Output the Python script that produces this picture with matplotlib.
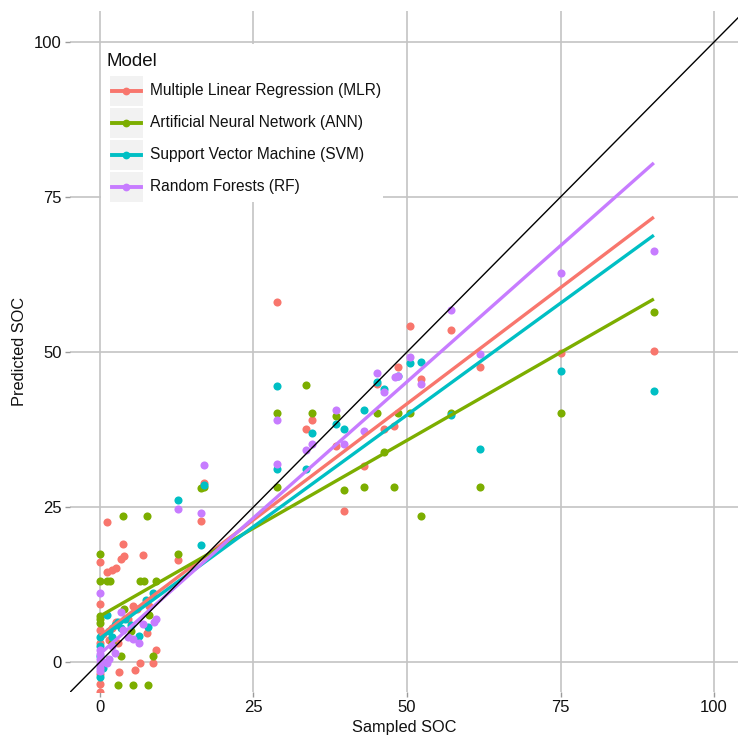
import matplotlib
matplotlib.use("Agg")
import matplotlib.pyplot as plt
from matplotlib.patches import Rectangle
from matplotlib.lines import Line2D
import numpy as np

plt.rcParams['font.family'] = ['Liberation Sans', 'DejaVu Sans']

models = ["Multiple Linear Regression (MLR)", "Artificial Neural Network (ANN)",
          "Support Vector Machine (SVM)", "Random Forests (RF)"]
colors = ["#F8766D", "#7CAE00", "#00BFC4", "#C77CFF"]

# Scatter points (Sampled SOC, Predicted SOC) per model
mlr_x = [0, 0, 0, 0, 0, 0, 0, 1.1, 1.2, 1.9, 2.6, 3.5, 3.9, 3.8, 7.0, 5.3, 2.6, 7.6, 6.5, 8.7, 9.1, 3.1, 5.7,
         0.5, 1.5, 2.0, 4.5, 6.0, 3.0, 8.0, 12.7, 16.5, 16.9,
         28.8, 33.5, 34.6, 38.4, 39.8, 43.0, 45.1, 46.2, 47.9, 48.5, 50.5, 52.2, 57.1, 61.9, 75.0, 90.2]
mlr_y = [16.2, 9.4, 5.2, 3.0, -3.5, -4.8, -2.0, 22.6, 14.5, 14.9, 15.2, 16.6, 17.1, 19.1, 17.3, 9.0, 6.5, 4.6, -0.1, -0.1, 2.0, -1.6, -1.3,
         4.5, 3.5, 5.5, 7.0, 8.5, 3.0, 9.0, 16.4, 22.7, 28.9,
         58.0, 37.6, 39.1, 34.9, 24.3, 31.6, 44.9, 37.6, 38.0, 47.5, 54.2, 45.7, 53.6, 47.5, 49.8, 50.1]

ann_x = [0, 0, 0, 0, 0, 1.1, 1.7, 3.8, 7.6, 6.5, 7.2, 9.2, 3.9, 8.7, 3.4, 3.0, 5.3, 7.9, 2.0, 5.0, 8.0,
         12.7, 16.5, 16.9,
         28.8, 28.8, 33.5, 34.6, 38.4, 39.8, 43.0, 45.1, 46.2, 47.9, 48.5, 50.5, 52.2, 57.1, 61.9, 75.0, 90.2]
ann_y = [17.4, 13.0, 7.4, 6.9, 6.3, 13.0, 13.0, 23.5, 23.5, 13.0, 13.0, 13.0, 8.5, 1.0, 0.9, -3.7, -3.7, -3.7, 3.0, 5.0, 7.5,
         17.4, 28.0, 28.3,
         40.2, 28.2, 44.6, 40.1, 39.6, 27.7, 28.2, 40.1, 33.8, 28.2, 40.1, 40.1, 23.5, 40.2, 28.2, 40.2, 56.5]

svm_x = [0, 0, 0, 0, 1.1, 7.5, 8.6, 7.9, 6.4, 1.5, 2.5, 3.0, 4.0, 5.0, 2.0, 3.5, 0.5,
         12.7, 16.5, 16.9,
         28.8, 28.8, 33.5, 34.6, 38.4, 39.8, 43.0, 45.1, 46.2, 48.5, 50.5, 52.2, 57.1, 61.9, 75.0, 90.2]
svm_y = [-2.4, 2.6, 1.0, 4.0, 7.6, 10.0, 11.1, 5.6, 4.2, 5.0, 6.0, 6.5, 7.0, 6.0, 4.0, 5.5, -1.0,
         26.2, 18.8, 28.5,
         44.5, 31.1, 31.1, 36.9, 38.4, 37.6, 40.7, 45.1, 44.0, 46.2, 48.3, 48.4, 39.8, 34.4, 47.0, 43.7]

rf_x = [0, 0, 0, 0, 0, 0, 0, 1.1, 2.4, 3.8, 3.5, 8.8, 9.2, 7.0, 5.4, 6.4, 1.5, 0.5, 4.5, 2.0,
        12.7, 16.5, 16.9,
        28.8, 28.8, 33.5, 34.6, 38.4, 39.8, 43.0, 45.1, 46.2, 48.1, 48.6, 50.5, 52.2, 57.1, 61.9, 75.0, 90.2]
rf_y = [11.2, 1.3, 0.5, -0.3, -1.0, -1.4, 2.0, -0.2, 1.4, 5.2, 8.0, 6.5, 6.9, 6.1, 3.7, 3.1, 0.5, 0.0, 4.0, 2.5,
        24.7, 24.1, 31.8,
        39.0, 32.0, 34.2, 35.2, 40.7, 35.2, 37.3, 46.6, 43.5, 45.9, 46.2, 49.2, 44.8, 56.7, 49.6, 62.7, 66.3]

# Linear fit lines (intercept, slope), fitted range
fit_intercepts = [4.2, 7.4, 3.8, 1.3]
fit_slopes = [0.749, 0.567, 0.721, 0.878]
fit_range = [0.0, 90.2]

xticks = [0, 25, 50, 75, 100]
yticks = [0, 25, 50, 75, 100]

W, H = 738, 736
fig = plt.figure(figsize=(W / 100, H / 100), dpi=100)
L, R, T, B = 70, 738, 11, 692
ax = fig.add_axes([L / W, 1 - B / H, (R - L) / W, (B - T) / H])
ax.set_xlim(-4.88, 103.9)
ax.set_ylim(-4.84, 105.0)
ax.set_facecolor("white")
for s in ax.spines.values():
    s.set_visible(False)

ax.set_xticks(xticks)
ax.set_yticks(yticks)
ax.grid(True, color="#C4C4C4", linewidth=1.2, zorder=0)
ax.tick_params(axis="both", length=3.5, width=1.0, color="#9A9A9A", labelsize=12, labelcolor="#111111", pad=2.5)
ax.set_xlabel("Sampled SOC", fontsize=11.8, labelpad=3.5, color="#111111")
ax.set_ylabel("Predicted SOC", fontsize=11.8, labelpad=5, color="#111111")

xs_list = [mlr_x, ann_x, svm_x, rf_x]
ys_list = [mlr_y, ann_y, svm_y, rf_y]
for xs, ys, c in zip(xs_list, ys_list, colors):
    ax.scatter(xs, ys, s=34, color=c, linewidths=0, zorder=3)

fx = np.array(fit_range)
for b0, b1, c in zip(fit_intercepts, fit_slopes, colors):
    ax.plot(fx, b0 + b1 * fx, color=c, linewidth=2.4, zorder=4, solid_capstyle="butt")

ax.axline((0, 0), slope=1, color="black", linewidth=1.0, zorder=5)

# Legend drawn in figure pixel coordinates
def P(px, py):
    return px / W, 1 - py / H

tf = fig.transFigure
x0, y0 = P(101, 202)
fig.patches.append(Rectangle((x0, y0), (383 - 101) / W, (202 - 44) / H, transform=tf,
                             facecolor="white", edgecolor="none", zorder=6))
fig.text(*P(106, 61), "Model", fontsize=13.5, va="center", ha="left", color="#111111", zorder=7)
centers = [91, 123, 155, 187]
for name, c, cy in zip(models, colors, centers):
    kx, ky = P(110, cy + 15)
    fig.patches.append(Rectangle((kx, ky), 33 / W, 30 / H, transform=tf,
                                 facecolor="#F2F2F2", edgecolor="none", zorder=7))
    lx0, ly = P(112, cy)
    lx1, _ = P(141, cy)
    fig.lines.append(Line2D([lx0, lx1], [ly, ly], transform=tf, color=c, linewidth=2.8, zorder=8))
    mx, my = P(126.5, cy)
    fig.lines.append(Line2D([mx], [my], transform=tf, color=c, marker="o", markersize=5.6,
                            markeredgewidth=0, linestyle="none", zorder=9))
    fig.text(*P(150, cy), name, fontsize=11.2, va="center", ha="left", color="#111111", zorder=9)

fig.savefig("out.png", dpi=100)
